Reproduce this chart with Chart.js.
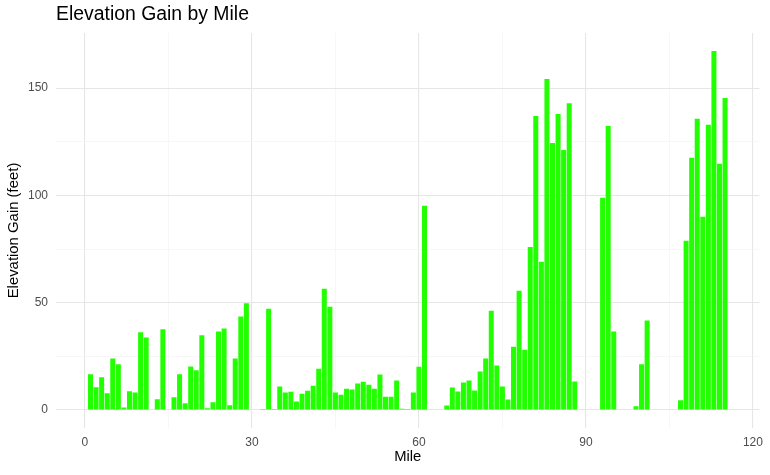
<!DOCTYPE html>
<html>
<head>
<meta charset="utf-8">
<script src="https://cdn.jsdelivr.net/npm/chart.js@4.4.1/dist/chart.umd.min.js"></script>
<style>
  html, body { margin: 0; padding: 0; background: #fff; }
  #wrap { width: 770px; height: 475px; position: relative; }
</style>
</head>
<body>
<div id="wrap"><canvas id="chart"></canvas></div>
<script>
const miles = [
  1, 2, 3, 4, 5, 6, 7, 8, 9, 10, 11, 12, 13, 14, 15, 16, 17, 18, 19, 20,
  21, 22, 23, 24, 25, 26, 27, 28, 29, 30, 31, 32, 33, 34, 35, 36, 37, 38, 39, 40,
  41, 42, 43, 44, 45, 46, 47, 48, 49, 50, 51, 52, 53, 54, 55, 56, 57, 58, 59, 60,
  61, 62, 63, 64, 65, 66, 67, 68, 69, 70, 71, 72, 73, 74, 75, 76, 77, 78, 79, 80,
  81, 82, 83, 84, 85, 86, 87, 88, 89, 90, 91, 92, 93, 94, 95, 96, 97, 98, 99, 100,
  101, 102, 103, 104, 105, 106, 107, 108, 109, 110, 111, 112, 113, 114, 115
];
const gain = [
  16.6, 10.6, 15.2, 7.8, 24.0, 21.3, 1.2, 8.7, 8.2, 36.2, 33.8, 0, 5.0, 37.6, 0, 5.9, 16.6, 3.1, 20.3, 18.5,
  34.8, 0.8, 3.6, 36.6, 38.0, 2.2, 24.0, 43.6, 49.7, 0, 0, 0.5, 47.2, 0.5, 10.9, 8.1, 8.5, 3.9, 7.6, 9.0,
  11.3, 19.2, 56.5, 48.1, 8.1, 7.1, 9.9, 9.5, 12.3, 13.2, 11.8, 9.9, 16.5, 6.2, 6.2, 13.7, 0.6, 0.4, 8.1, 20.2,
  95.2, 0, 0, 0, 2.1, 10.5, 8.6, 12.8, 13.7, 9.1, 17.9, 24.0, 46.3, 20.7, 10.9, 4.9, 29.5, 55.6, 28.1, 76.0,
  137.0, 69.1, 154.2, 124.4, 137.9, 121.2, 143.0, 13.3, 0, 0, 0, 0, 98.9, 132.4, 36.6, 0, 0, 0, 1.7, 21.3,
  41.7, 0, 0, 0, 0, 0, 4.5, 78.9, 117.5, 135.7, 90.1, 132.9, 167.3, 114.7, 145.4
];
const xTicks = [0, 15, 30, 45, 60, 75, 90, 105, 120];
const xLabels = [0, 30, 60, 90, 120];
const yTicks = [0, 25, 50, 75, 100, 125, 150];
const yLabels = [0, 50, 100, 150];

const font = "'Liberation Sans', Arial, Helvetica, sans-serif";

// major lines a bit darker and thicker than the minor ones
function gridColor(labels) {
  return ctx => labels.includes(ctx.tick && ctx.tick.value) ? "#e6e6e6" : "#f2f2f2";
}
function gridWidth(labels) {
  return ctx => labels.includes(ctx.tick && ctx.tick.value) ? 1.1 : 0.6;
}

new Chart(document.getElementById("chart"), {
  type: "bar",
  data: {
    datasets: [{
      data: miles.map((m, i) => ({ x: m, y: gain[i] })),
      backgroundColor: "#22ff00",
      borderWidth: 0,
      barPercentage: 0.9,
      categoryPercentage: 1
    }]
  },
  options: {
    responsive: true,
    maintainAspectRatio: false,
    animation: false,
    layout: { padding: { left: 0, right: 8, top: 0, bottom: 0 } },
    plugins: {
      legend: { display: false },
      tooltip: { enabled: false },
      title: {
        display: true,
        text: "Elevation Gain by Mile",
        align: "start",
        fullSize: false,
        color: "#000",
        font: { family: font, size: 19.4, weight: "normal" },
        padding: { top: 3.3, bottom: 6.4 }
      }
    },
    scales: {
      x: {
        type: "linear",
        min: -5.2,
        max: 121.2,
        bounds: "data",
        offset: false,
        afterBuildTicks: s => { s.ticks = xTicks.map(v => ({ value: v })); },
        afterFit: s => { s.height = 47; },
        grid: { color: gridColor(xLabels), lineWidth: gridWidth(xLabels), drawTicks: false, offset: false },
        border: { display: false },
        ticks: {
          color: "#4d4d4d",
          font: { family: font, size: 12 },
          padding: 7,
          maxRotation: 0,
          autoSkip: false,
          callback: v => xLabels.includes(v) ? String(v) : ""
        },
        title: {
          display: true,
          text: "Mile",
          color: "#000",
          font: { family: font, size: 14.8 },
          padding: { top: 0, bottom: 9 }
        }
      },
      y: {
        min: -8.4,
        max: 175.7,
        bounds: "data",
        afterBuildTicks: s => { s.ticks = yTicks.map(v => ({ value: v })); },
        afterFit: s => { s.width = 56; },
        grid: { color: gridColor(yLabels), lineWidth: gridWidth(yLabels), drawTicks: false },
        border: { display: false },
        ticks: {
          color: "#4d4d4d",
          font: { family: font, size: 12 },
          padding: 8,
          autoSkip: false,
          callback: v => yLabels.includes(v) ? String(v) : ""
        },
        title: {
          display: true,
          text: "Elevation Gain (feet)",
          color: "#000",
          font: { family: font, size: 14.9 },
          padding: { top: 5, bottom: 0 }
        }
      }
    }
  }
});
</script>
</body>
</html>
